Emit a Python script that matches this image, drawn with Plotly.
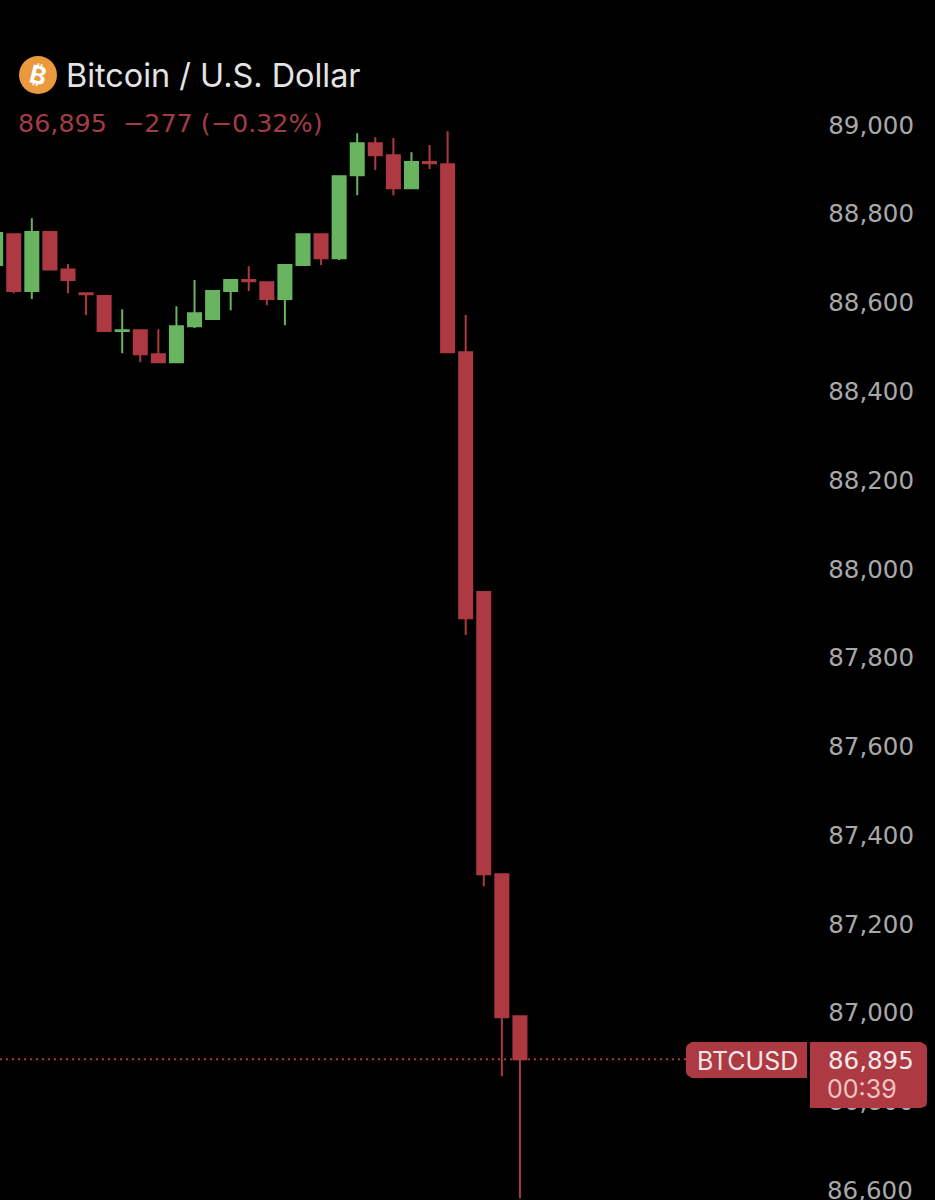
import plotly.graph_objects as go

# chandelles, de gauche a droite
barres = list(range(30))
ouverture = [88685, 88754, 88626, 88759, 88675, 88621, 88615, 88536, 88538, 88484,
             88466, 88547, 88563, 88626, 88651, 88646, 88608, 88685, 88754, 88700,
             88887, 88959, 88932, 88858, 88917, 88912, 88488, 87948, 87312, 86992]
haut = [88757, 88754, 88790, 88759, 88687, 88621, 88615, 88585, 88540, 88540,
        88592, 88651, 88628, 88651, 88682, 88646, 88685, 88754, 88754, 88887,
        88982, 88973, 88971, 88939, 88955, 88986, 88572, 87948, 87312, 86992]
bas = [88685, 88621, 88608, 88675, 88621, 88572, 88536, 88486, 88466, 88466,
       88466, 88543, 88563, 88583, 88626, 88594, 88549, 88685, 88685, 88696,
       88842, 88899, 88842, 88858, 88901, 88488, 87851, 87285, 86857, 86582]
cloture = [88757, 88626, 88759, 88675, 88651, 88619, 88536, 88538, 88484, 88466,
           88547, 88576, 88626, 88651, 88648, 88608, 88685, 88754, 88700, 88885,
           88959, 88932, 88858, 88917, 88914, 88488, 87889, 87312, 86990, 86895]

ticks_y = [89000, 88800, 88600, 88400, 88200, 88000, 87800, 87600, 87400, 87200, 87000, 86800]
tick_bas = 86600
dernier_prix = 86895

ROUGE = "#ad3a42"
VERT = "#68b45f"
GRIS = "#a8a8a8"
POLICE = "Inter"
POLICE_CHIFFRES = "DejaVu Sans"
TAILLE_TICK = 24.5


# passage de pixels a coordonnees papier (marges nulles)
def px(x):
  return x / 935


def py(y):
  return 1 - y / 1200


def chemin(points):
  return "M" + " L".join(f"{px(x)},{py(y)}" for x, y in points) + " Z"


fig = go.Figure()
fig.add_trace(go.Candlestick(
    x=barres, open=ouverture, high=haut, low=bas, close=cloture,
    whiskerwidth=0,
    increasing=dict(line=dict(color=VERT, width=2), fillcolor=VERT),
    decreasing=dict(line=dict(color=ROUGE, width=2), fillcolor=ROUGE),
    showlegend=False))

fig.update_layout(
    width=935, height=1200,
    margin=dict(l=0, r=0, t=0, b=0),
    paper_bgcolor="#000000", plot_bgcolor="#000000",
    boxgap=0.28, boxgroupgap=0,
    xaxis=dict(visible=False, range=[0.24, 51.96], rangeslider=dict(visible=False)),
    yaxis=dict(side="right", range=[86578, 89282], tickvals=ticks_y,
               tickformat=",d", ticks="", ticklabelposition="inside",
               ticklabelstandoff=18, showgrid=False, zeroline=False, showline=False,
               tickfont=dict(family=POLICE_CHIFFRES, size=TAILLE_TICK, color=GRIS)),
    font=dict(family=POLICE))

# ligne du dernier prix
fig.add_shape(type="line", xref="paper", yref="y", x0=0, x1=px(686),
              y0=dernier_prix, y1=dernier_prix, layer="above",
              line=dict(color=ROUGE, width=2, dash="2px 4px"))

# etiquettes a droite, par dessus les ticks
fig.add_shape(type="path", xref="paper", yref="paper", layer="above", line_width=0, fillcolor=ROUGE,
              path=chemin([(692, 1042), (807, 1042), (807, 1078), (692, 1078), (687, 1075), (686, 1072), (686, 1048), (687, 1045)]))
fig.add_shape(type="path", xref="paper", yref="paper", layer="above", line_width=0, fillcolor=ROUGE,
              path=chemin([(810, 1042), (921, 1042), (926, 1045), (927, 1048), (927, 1102), (926, 1106), (921, 1108), (810, 1108)]))

# logo
fig.add_shape(type="circle", xref="paper", yref="paper", layer="above", line_width=0, fillcolor="#ea9a3c",
              x0=px(19), x1=px(57), y0=py(94), y1=py(56))


def texte(x, y, chaine, taille, couleur, ancre="left", police=POLICE, **kw):
  fig.add_annotation(xref="paper", yref="paper", x=px(x), y=py(y), text=chaine, showarrow=False,
                     xanchor=ancre, yanchor="middle", font=dict(family=police, size=taille, color=couleur),
                     borderpad=0, borderwidth=0, **kw)


texte(38, 75, "<b>₿</b>", 25, "#ffffff", ancre="center", textangle=14)
texte(66, 75, "Bitcoin / U.S. Dollar", 32.4, "#e4e4e4")
texte(18, 123, "86,895  −277 (−0.32%)", 25.4, "#a23c47", police=POLICE_CHIFFRES)
texte(747, 1061, "BTCUSD", 25, "#f4e6e6", ancre="center")
texte(914, 1060, "86,895", 24.5, "#f6e8e8", ancre="right", police=POLICE_CHIFFRES)
texte(827, 1089, "00:39", 25, "#f0c4c4")

# plotly retire le dernier tick trop pres du bord, on le remet en texte
fig.add_annotation(xref="paper", yref="y", x=px(914), y=tick_bas, text=f"{tick_bas:,}", showarrow=False,
                   xanchor="right", yanchor="middle", borderpad=0,
                   font=dict(family=POLICE_CHIFFRES, size=TAILLE_TICK, color=GRIS))

fig.write_html("out.html", config=dict(displayModeBar=False),
               post_script="document.body.style.margin='0';document.body.style.background='#000';")
